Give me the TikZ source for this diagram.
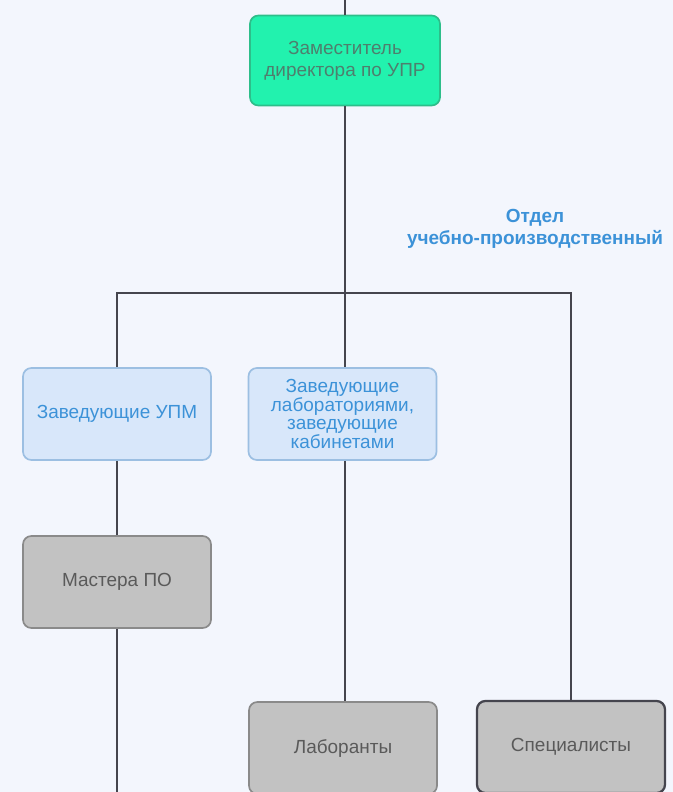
\documentclass[tikz,border=0pt]{standalone}
\usepackage{fontspec}
\setmainfont{Liberation Sans}
\usepackage[svgnames]{xcolor}
\usetikzlibrary{positioning}
\definecolor{bgpage}{HTML}{F3F6FD}
\definecolor{mint}{HTML}{22F2AE}
\definecolor{mintline}{HTML}{2DBE8A}
\definecolor{minttext}{HTML}{4E7F6E}
\definecolor{paleblue}{HTML}{D8E7FA}
\definecolor{bluebord}{HTML}{9CBFE2}
\definecolor{bluetext}{HTML}{3C92D8}
\definecolor{greybox}{HTML}{C2C2C2}
\definecolor{greybord}{HTML}{8A8A8A}
\definecolor{greytext}{HTML}{5A5A5A}
\definecolor{wire}{HTML}{45454E}

\begin{document}
\begin{tikzpicture}[x=0.025cm, y=-0.025cm, font=\fontsize{13.5}{15.5}\selectfont,
	box/.style={rounded corners=6pt, line width=1.2pt, align=center, inner sep=2pt},
	chief/.style={box, fill=mint, draw=mintline, text=minttext, minimum width=4.75cm, minimum height=2.25cm},
	head/.style={box, fill=paleblue, draw=bluebord, text=bluetext, minimum width=4.7cm, minimum height=2.3cm},
	staff/.style={box, fill=greybox, draw=greybord, text=greytext, minimum width=4.7cm, minimum height=2.3cm},
	wires/.style={draw=wire, line width=1.4pt}]
	\useasboundingbox (0,0) rectangle (673,792);
	\fill[bgpage] (0,0) rectangle (673,792);
	\clip (0,0) rectangle (673,792);
	% top
	\coordinate (in) at (345,-5);
	\node[chief] (zam) at (345,60.5) {Заместитель\\директора по УПР};
	\node[text=bluetext, font=\fontsize{13.5}{16}\selectfont\bfseries, align=center] (otdel) at (535,229) {Отдел\\учебно-производственный};
	\coordinate (bus) at (345,293);
	% second row
	\node[head] (upm) at (117,414) {Заведующие УПМ};
	\node[head, font=\fontsize{13.5}{13.4}\selectfont] (zavlab) at (342.5,414) {Заведующие\\лабораториями,\\заведующие\\кабинетами};
	% third and fourth rows
	\node[staff] (master) at (117,582) {Мастера ПО};
	\node[staff] (labor) at (343,748) {Лаборанты};
	\node[staff, draw=wire, line width=1.6pt] (spec) at (571,747) {Специалисты};
	\coordinate (out) at (117,800);
	% connectors
	\draw[wires] (in) -- (zam.north);
	\draw[wires] (zam.south) -- (bus);
	\draw[wires] (upm.north) |- (bus) -| (spec.north);
	\draw[wires] (bus) -- (zavlab.north -| bus);
	\draw[wires] (upm.south) -- (master.north);
	\draw[wires] (master.south) -- (out);
	\draw[wires] (zavlab.south -| bus) -- (labor.north -| bus);
\end{tikzpicture}
\end{document}
